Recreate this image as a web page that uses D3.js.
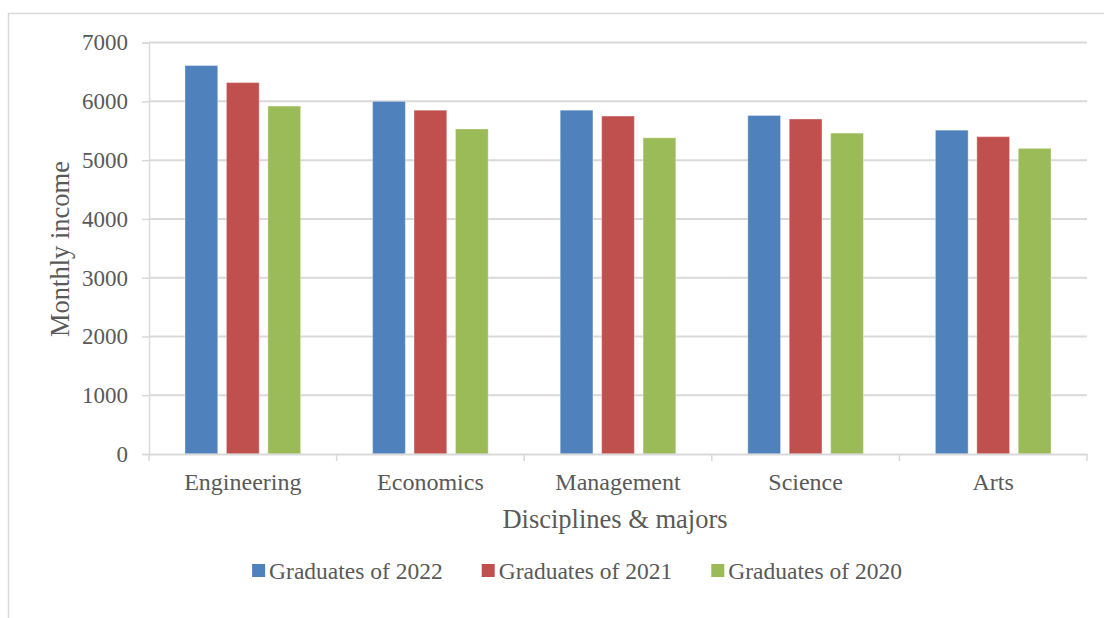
<!DOCTYPE html>
<html>
<head>
<meta charset="utf-8">
<script src="https://cdn.jsdelivr.net/npm/d3@7"></script>
<style>
  html, body { margin: 0; padding: 0; background: #fff; }
  svg { display: block; }
  svg text { font-family: "Liberation Serif", "Times New Roman", serif !important; fill: #595959; }
</style>
</head>
<body>
<svg id="chart" width="1104" height="618" font-family="Liberation Serif, serif"></svg>
<script>
// Monthly income of graduates by discipline
const categories = ["Engineering", "Economics", "Management", "Science", "Arts"];
const seriesNames = ["Graduates of 2022", "Graduates of 2021", "Graduates of 2020"];
const grad2022 = [6610, 6000, 5850, 5760, 5510];
const grad2021 = [6320, 5850, 5750, 5700, 5400];
const grad2020 = [5920, 5530, 5380, 5460, 5200];
const yTicks = [0, 1000, 2000, 3000, 4000, 5000, 6000, 7000];
const colors = ["#4F81BD", "#C0504D", "#9BBB59"];

const seriesValues = [grad2022, grad2021, grad2020];
const serif = "Liberation Serif, Times New Roman, serif";

const svg = d3.select("#chart");
const gridColor = "#d9d9d9";

// outer chart frame (left and top edges visible)
svg.append("path")
  .attr("d", "M8.5,618 V13.5 H1104")
  .attr("fill", "none")
  .attr("stroke", gridColor)
  .attr("stroke-width", 1.5);

const plot = { left: 149, right: 1087, top: 42.6, bottom: 454 };

const y = d3.scaleLinear().domain([0, 7000]).range([plot.bottom, plot.top]);
const x0 = d3.scaleBand().domain(categories).range([plot.left, plot.right]).padding(0);
const x1 = d3.scaleBand().domain(seriesNames)
  .range([36, x0.bandwidth() - 36])
  .paddingInner(0.21).paddingOuter(0);

// horizontal gridlines
svg.append("g").selectAll("line")
  .data(yTicks.filter(d => d > 0))
  .join("line")
  .attr("x1", plot.left).attr("x2", plot.right)
  .attr("y1", d => y(d)).attr("y2", d => y(d))
  .attr("stroke", gridColor).attr("stroke-width", 2);

// y axis
const yAxis = svg.append("g")
  .attr("transform", `translate(${plot.left},0)`)
  .call(d3.axisLeft(y).tickValues(yTicks).tickSize(7).tickPadding(14).tickFormat(d3.format("d")))
  .attr("font-family", serif);
yAxis.select(".domain").attr("stroke", gridColor).attr("stroke-width", 1.5);
yAxis.selectAll(".tick line").attr("stroke", gridColor).attr("stroke-width", 1.5);
yAxis.selectAll(".tick text")
  .attr("font-size", 23).attr("fill", "#595959");

// bars
const groups = svg.append("g").selectAll("g")
  .data(categories)
  .join("g")
  .attr("transform", d => `translate(${x0(d)},0)`);

groups.selectAll("rect")
  .data((c, i) => seriesNames.map((s, k) => ({ series: s, k, value: seriesValues[k][i] })))
  .join("rect")
  .attr("x", d => x1(d.series))
  .attr("width", x1.bandwidth())
  .attr("y", d => y(d.value))
  .attr("height", d => y(0) - y(d.value))
  .attr("fill", d => colors[d.k])
  .attr("stroke", "rgba(255,255,255,0.35)")
  .attr("stroke-width", 1);

// x axis
const xAxis = svg.append("g")
  .attr("transform", `translate(0,${plot.bottom})`)
  .call(d3.axisBottom(x0).tickSize(0).tickPadding(36))
  .attr("font-family", serif);
xAxis.select(".domain").attr("stroke", gridColor).attr("stroke-width", 2);
xAxis.selectAll(".tick text")
  .attr("font-size", 24).attr("fill", "#595959")
  .attr("dy", 0);

// category separators
svg.append("g").selectAll("line")
  .data(d3.range(categories.length + 1))
  .join("line")
  .attr("x1", i => plot.left + i * x0.step())
  .attr("x2", i => plot.left + i * x0.step())
  .attr("y1", plot.bottom).attr("y2", plot.bottom + 7)
  .attr("stroke", gridColor).attr("stroke-width", 1.5);

// axis titles
svg.append("text")
  .attr("x", (plot.left + plot.right) / 2 - 3)
  .attr("y", 528)
  .attr("text-anchor", "middle")
  .attr("font-size", 26.5)
  .text("Disciplines & majors");

svg.append("text")
  .attr("transform", `translate(69,249) rotate(-90)`)
  .attr("text-anchor", "middle")
  .attr("font-size", 26.5)
  .text("Monthly income");

// legend
const legend = svg.append("g");
const items = legend.selectAll("g")
  .data(seriesNames)
  .join("g");
items.append("rect")
  .attr("width", 13).attr("height", 13)
  .attr("y", 564)
  .attr("fill", (d, i) => colors[i]);
items.append("text")
  .attr("x", 17)
  .attr("y", 579)
  .attr("font-size", 23.5)
  .text(d => d);

const widths = [];
items.each(function () { widths.push(this.querySelector("text").getComputedTextLength() + 17); });
const gap = 39;
const total = d3.sum(widths) + gap * (widths.length - 1);
let cx = 577 - total / 2;
items.attr("transform", (d, i) => {
  const t = `translate(${cx},0)`;
  cx += widths[i] + gap;
  return t;
});
</script>
</body>
</html>
